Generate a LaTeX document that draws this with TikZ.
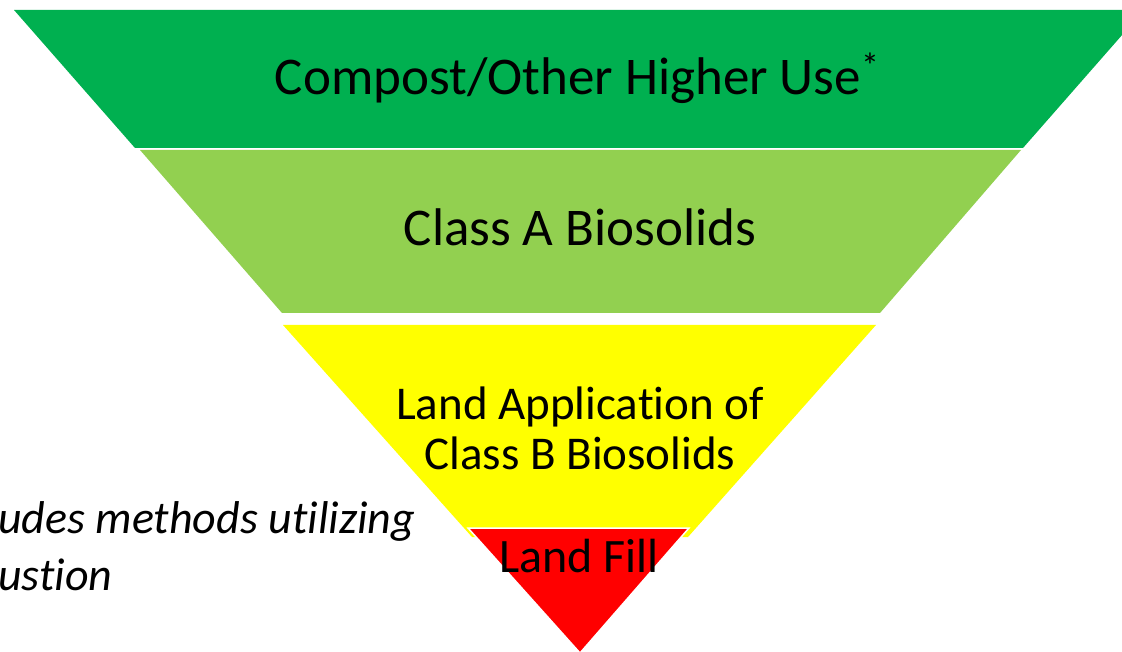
\documentclass[tikz,border=0pt]{standalone}
\usepackage{fontspec}
\setmainfont[Ligatures=NoCommon]{Carlito}
\definecolor{darkgreen}{HTML}{00B050}
\definecolor{lightgreen}{HTML}{92D050}
\definecolor{brightyellow}{HTML}{FFFF00}
\definecolor{brightred}{HTML}{FF0000}
\begin{document}
\begin{tikzpicture}[x=1pt,y=-1pt,layer/.style={fill=#1,draw=none},lbl/.style={anchor=base,align=center,font=\fontsize{#1}{50}\selectfont},lbl/.default=47,note/.style={anchor=base west,align=left,font=\fontsize{46}{57}\selectfont\itshape}]
    \useasboundingbox (0,0) rectangle (1122,652);
    \fill[layer=darkgreen] (14,10) -- (1144,10) -- (1023,148) -- (135,148) -- cycle;
    \fill[layer=lightgreen] (140,150) -- (1021,150) -- (880,313) -- (282,313) -- cycle;
    \fill[layer=brightyellow] (283,325) -- (876,325) -- (688,537) -- (472,537) -- cycle;
    \filldraw[fill=brightred,draw=white,line width=1.5pt] (468,528) -- (689,528) -- (580,653) -- cycle;
    \node[lbl=53] (compost) at (577,95) {Compost/Other Higher Use{\fontsize{36}{36}\selectfont\raisebox{16pt}{*}}};
    \node[lbl=53] (classa) at (580,246) {Class A Biosolids};
    \node[lbl] (landapp) at (580,469) {Land Application of\\Class B Biosolids};
    \node[lbl=48] (landfill) at (579,572) {Land Fill};
    \node[note,inner sep=0pt] (footnote) at (-2,590) {udes methods utilizing\\ustion};
\end{tikzpicture}
\end{document}
